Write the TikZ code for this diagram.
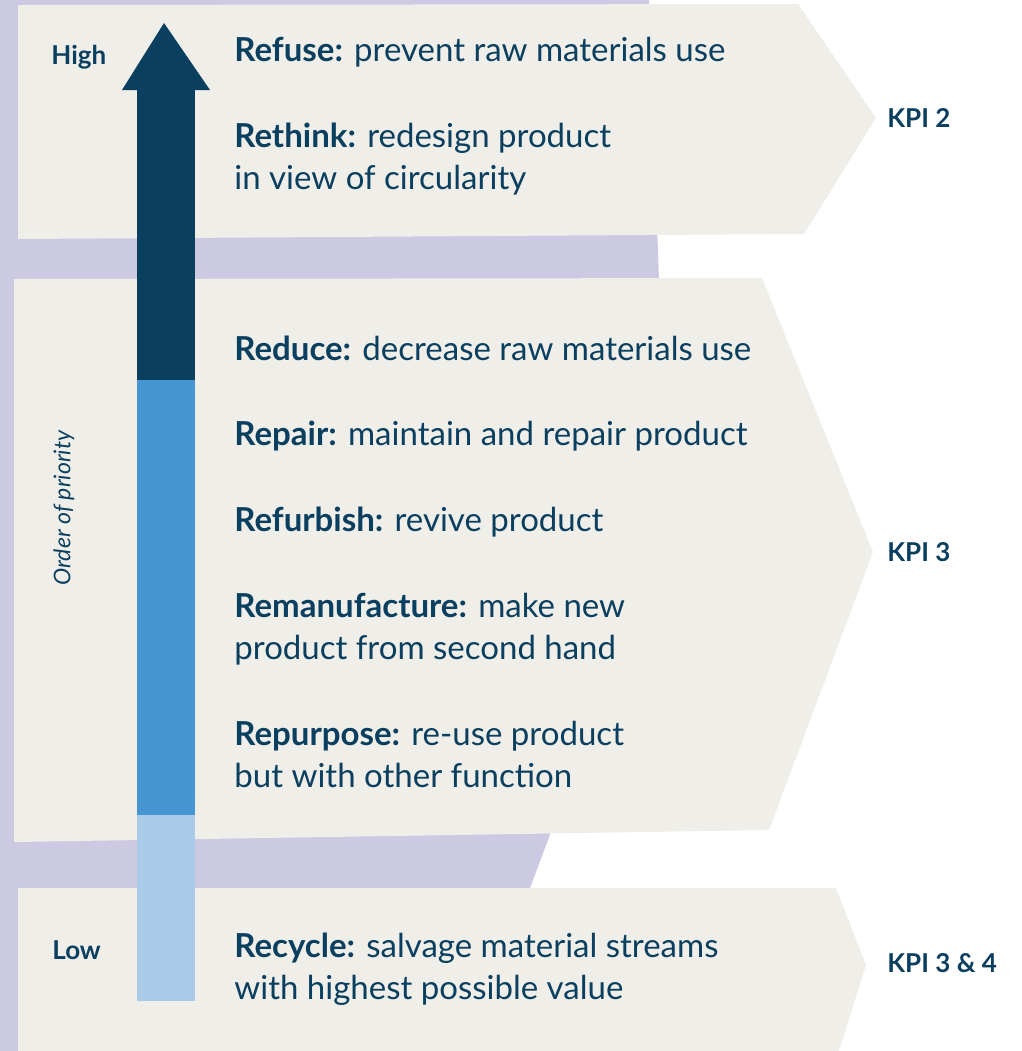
\documentclass[tikz,border=0pt]{standalone}
\usepackage{fontspec}
\setmainfont{Lato}
\usetikzlibrary{calc}

\definecolor{navy}{HTML}{0B3F5F}
\definecolor{midblue}{HTML}{4695D3}
\definecolor{lightblue}{HTML}{A9CBE8}
\definecolor{panel}{HTML}{EFEEE9}
\definecolor{lilac}{HTML}{CCC9E3}

\begin{document}
\begin{tikzpicture}[x=0.5pt,y=-0.5pt,
	item/.style={anchor=base west,inner sep=0pt,text=navy,font=\fontsize{16.5}{19}\selectfont},
	kpi/.style={anchor=base west,inner sep=0pt,text=navy,font=\fontsize{13}{16}\selectfont\bfseries},
	level/.style={kpi}]
	\useasboundingbox (0,0) rectangle (1022,1051);

	% lilac backdrop behind the three panels
	\fill[lilac] (0,0) -- (649,0) -- (659,280) -- (562,800) -- (548,840) -- (530,888)
		-- (530,1051) -- (0,1051) -- cycle;

	% the three chevron panels
	\fill[panel] (18,5) -- (798,4) -- (876,118) -- (804,234) -- (18,239) -- cycle;
	\fill[panel] (14,279) -- (762,278) -- (873,552) -- (769,830) -- (14,842) -- cycle;
	\fill[panel] (18,888) -- (836,888) -- (866,965) -- (839,1051) -- (18,1051) -- cycle;

	% define the coordinates of the priority arrow
	\coordinate (T) at (164,23);
	\coordinate (A) at (137,90);
	\coordinate (B) at (195,380);
	\coordinate (C) at (137,815);
	\coordinate (D) at (195,1001);

	% draw the arrow in three shades
	\fill[navy] (122,90) -- (T) -- (210,90) -- cycle;
	\fill[navy] (A) rectangle (B);
	\fill[midblue] (A|-B) rectangle (B|-C);
	\fill[lightblue] (C) rectangle (D);

	% ends of the scale
	\node[level] (high) at (51,64) {High};
	\node[level] (low) at (52,959) {Low};
	\node[rotate=90,text=navy,font=\fontsize{11.5}{14}\selectfont\itshape] (order) at (64,508) {Order of priority};

	% top panel
	\node[item] (refuse) at (234,61) {\textbf{Refuse:} prevent raw materials use};
	\node[item] (rethink) at (234,147) {\textbf{Rethink:} redesign product};
	\node[item] (rethinkb) at (234,189) {in view of circularity};
	\node[kpi] (kpia) at (887,127) {KPI 2};

	% middle panel
	\node[item] (reduce) at (234,360) {\textbf{Reduce:} decrease raw materials use};
	\node[item] (repair) at (234,445) {\textbf{Repair:} maintain and repair product};
	\node[item] (refurbish) at (234,531) {\textbf{Refurbish:} revive product};
	\node[item] (reman) at (234,617) {\textbf{Remanufacture:} make new};
	\node[item] (remanb) at (234,659) {product from second hand};
	\node[item] (repurpose) at (234,745) {\textbf{Repurpose:} re-use product};
	\node[item] (repurposeb) at (234,787) {but with other function};
	\node[kpi] (kpib) at (887,561) {KPI 3};

	% bottom panel
	\node[item] (recycle) at (234,957) {\textbf{Recycle:} salvage material streams};
	\node[item] (recycleb) at (234,999) {with highest possible value};
	\node[kpi] (kpic) at (887,972) {KPI 3 \& 4};
\end{tikzpicture}
\end{document}
